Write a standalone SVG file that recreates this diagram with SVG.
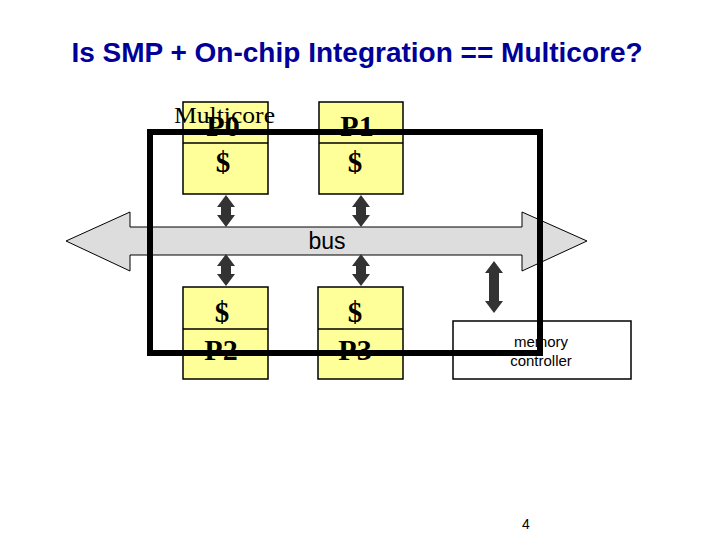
<svg xmlns="http://www.w3.org/2000/svg" width="720" height="540" viewBox="0 0 720 540">
<style>
.box{fill:#ffff99;stroke:#000;stroke-width:1.5}
.div{stroke:#000;stroke-width:1.5}
.pt{font-family:"Liberation Serif","Times New Roman",serif;font-weight:bold;font-size:30px;text-anchor:middle;fill:#000}
.dl{font-family:"Liberation Serif","Times New Roman",serif;font-weight:bold;font-size:29px;text-anchor:middle;fill:#000}
.arr{fill:#333333}
.sans{font-family:"Liberation Sans",Arial,sans-serif;fill:#000;text-anchor:middle}
</style>
<rect width="720" height="540" fill="#fff"/>
<text x="357" y="62" class="sans" style="font-size:28px;font-weight:bold;fill:#000099">Is SMP + On-chip Integration == Multicore?</text>
<g id="bus">
<polygon points="66,241 130,212 130,227 522,227 522,212 587,241 522,271 522,255 130,255 130,271" fill="#dddddd" stroke="#000" stroke-width="1"/>
<text x="327" y="249" class="sans" style="font-size:23px">bus</text>
</g>
<g id="connectors">
<polygon class="arr" points="226,195 235,207 231,207 231,215 235,215 226,227 217,215 221,215 221,207 217,207"/>
<polygon class="arr" points="361,195 370,207 366,207 366,215 370,215 361,227 352,215 356,215 356,207 352,207"/>
<polygon class="arr" points="226,254 235,266 231,266 231,274 235,274 226,286 217,274 221,274 221,266 217,266"/>
<polygon class="arr" points="361,254 370,266 366,266 366,274 370,274 361,286 352,274 356,274 356,266 352,266"/>
<polygon class="arr" points="494,261 503,273 499,273 499,301 503,301 494,313 485,301 489,301 489,273 485,273"/>
</g>
<g id="P0">
<rect class="box" x="183" y="102" width="85" height="92"/>
<line class="div" x1="183" y1="143" x2="268" y2="143"/>
<text x="223" y="136" class="pt">P0</text>
<text x="223" y="172" class="dl">$</text>
</g>
<g id="P1">
<rect class="box" x="319" y="102" width="84" height="92"/>
<line class="div" x1="319" y1="143" x2="403" y2="143"/>
<text x="357" y="136" class="pt">P1</text>
<text x="355" y="172" class="dl">$</text>
</g>
<g id="P2">
<rect class="box" x="183" y="287" width="85" height="92"/>
<line class="div" x1="183" y1="329" x2="268" y2="329"/>
<text x="222" y="322" class="dl">$</text>
<text x="221" y="360" class="pt">P2</text>
</g>
<g id="P3">
<rect class="box" x="318" y="287" width="85" height="92"/>
<line class="div" x1="318" y1="329" x2="403" y2="329"/>
<text x="355" y="322" class="dl">$</text>
<text x="355" y="360" class="pt">P3</text>
</g>
<g id="memctrl">
<rect x="453" y="321" width="178" height="58" fill="#fff" stroke="#000" stroke-width="1.5"/>
<text x="541" y="347" class="sans" style="font-size:15px">memory</text>
<text x="541" y="366" class="sans" style="font-size:15px">controller</text>
</g>
<g id="multicore">
<rect x="150" y="132" width="390" height="221" fill="none" stroke="#000" stroke-width="6"/>
<text x="174" y="123" font-family="'Liberation Serif','Times New Roman',serif" font-size="23" textLength="101" lengthAdjust="spacingAndGlyphs" fill="#000">Multicore</text>
</g>
<text x="526" y="529" class="sans" style="font-size:14px">4</text>
</svg>
